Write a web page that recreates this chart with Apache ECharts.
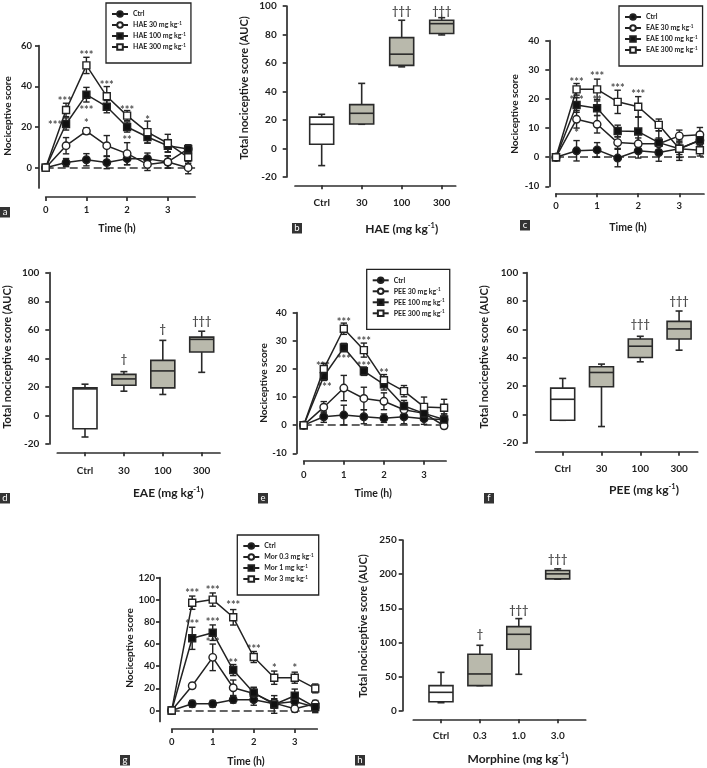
<!DOCTYPE html>
<html><head><meta charset="utf-8">
<script src="https://cdn.jsdelivr.net/npm/echarts@6/dist/echarts.min.js"></script>
<style>html,body{margin:0;padding:0;background:#fff}#c{width:707px;height:768px}</style>
</head><body><div id="c"></div>
<script>
// ---------------- DATA ----------------
const timeH = [0, 0.5, 1, 1.5, 2, 2.5, 3, 3.5];
const timeTicks = [0, 1, 2, 3];

// Panel a (HAE)
const aNames = ['Ctrl', 'HAE 30 mg kg-1', 'HAE 100 mg kg-1', 'HAE 300 mg kg-1'];
const aCtrl = [0, 2.5, 3.9, 2.5, 4.4, 4.4, 2.8, 9.2];
const aCtrlErr = [0, 2, 3, 3, 3, 2.8, 3, 2];
const aD30 = [0, 10.8, 18, 10.8, 6.9, 1.6, 2.8, 0];
const aD30Err = [0, 4, 1.6, 5, 5.4, 3, 3, 3];
const aD100 = [0, 21.5, 35.9, 30, 20, 15.1, 10.8, 9.2];
const aD100Err = [0, 3, 3.6, 3, 2.5, 3, 3, 2];
const aD300 = [0, 28.4, 50.3, 35.1, 25.6, 17.5, 12, 5.1];
const aD300Err = [0, 3.3, 4, 4.8, 2.5, 5.4, 4.4, 3];
const aYTicks = [0, 20, 40, 60];
const aStars = [[0.47, 33.6, '***'], [0.23, 21.8, '***'], [1, 56.6, '***'], [1, 29.2, '***'], [1, 23, '*'],
  [1.5, 41.5, '***'], [2, 29.2, '***'], [2, 14.4, '**'], [2.5, 24.3, '*']];

// Panel b (HAE AUC)
const bCats = ['Ctrl', '30', '100', '300'];
const bBoxes = [[-12, 3, 17, 22, 24], [17, 17.2, 24.7, 30.8, 45.7], [57.3, 58.3, 66.2, 77.8, 90], [79.7, 80.7, 87.6, 90, 91.8]];
const bYTicks = [-20, 0, 20, 40, 60, 80, 100];
const bDaggers = [[2, 95.9, '†††'], [3, 95.9, '†††']];

// Panel c (EAE)
const cNames = ['Ctrl', 'EAE 30 mg kg-1', 'EAE 100 mg kg-1', 'EAE 300 mg kg-1'];
const cCtrl = [0, 2.2, 2.5, -0.3, 2.2, 1.6, 2.9, 5.8];
const cCtrlErr = [0, 3.5, 2.5, 3, 2.5, 3, 3, 2];
const cD30 = [0, 13, 11.3, 5, 4.6, 4.6, 7.3, 7.7];
const cD30Err = [0, 3, 3, 2, 2, 2, 2, 2.5];
const cD100 = [0, 17.9, 16.8, 9, 8.8, 5, 2.9, 5.8];
const cD100Err = [0, 2.5, 2.5, 2, 5, 4, 2, 2];
const cD300 = [0, 23.3, 23.3, 19, 17.3, 11.1, 2.9, 2.4];
const cD300Err = [0, 2, 3.5, 4, 3.5, 2, 4, 2];
const cYTicks = [-10, 0, 10, 20, 30, 40];
const cStars = [[0.5, 26.4, '***'], [0.5, 20.5, '***'], [0.5, 9.0, '*'], [1, 28.5, '***'], [1, 20.3, '**'],
  [1.5, 24.6, '***'], [2, 22.3, '***']];

// Panel d (EAE AUC)
const dCats = ['Ctrl', '30', '100', '300'];
const dBoxes = [[-15.1, -9.3, 18.6, 19.3, 21.9], [17, 21.2, 25.6, 28.8, 30.7], [14.7, 19.3, 31.2, 38.6, 52.6], [30.2, 44.4, 53.3, 54.9, 59]];
const dYTicks = [-20, 0, 20, 40, 60, 80, 100];
const dDaggers = [[1, 39.3, '†'], [2, 60.2, '†'], [3, 65.8, '†††']];

// Panel e (PEE)
const eNames = ['Ctrl', 'PEE 30 mg kg-1', 'PEE 100 mg kg-1', 'PEE 300 mg kg-1'];
const eCtrl = [0, 3, 3.6, 3, 2.5, 3, 2.3, 2];
const eCtrlErr = [0, 2, 3.5, 2.5, 1.5, 2.5, 2, 2];
const eD30 = [0, 6.4, 13.2, 9.5, 8.5, 5.5, 4.2, -0.2];
const eD30Err = [0, 2, 4.5, 4, 3, 2, 2, 1];
const eD100 = [0, 17.4, 27.6, 19.2, 14.5, 6.8, 4.2, 2];
const eD100Err = [0, 1.5, 1.5, 1.5, 2, 2, 2, 2];
const eD300 = [0, 20, 34.3, 26.7, 16, 12.1, 6.5, 6.2];
const eD300Err = [0, 2, 2, 2.5, 2, 2, 3.5, 3];
const eYTicks = [-10, 0, 10, 20, 30, 40];
const eStars = [[0.48, 21.9, '***'], [0.52, 14.2, '***'], [1, 37.4, '***'], [1, 24.1, '***'],
  [1.5, 30.5, '***'], [1.5, 21.6, '***'], [2, 19.2, '**']];

// Panel f (PEE AUC)
const fCats = ['Ctrl', '30', '100', '300'];
const fBoxes = [[-4, -4, 10.8, 18.7, 25.5], [-8.4, 19.6, 29.7, 33.7, 35.6], [37.2, 40.2, 48.2, 53.3, 55.2], [45.4, 53.3, 60.4, 65.7, 73]];
const fYTicks = [-20, 0, 20, 40, 60, 80, 100];
const fDaggers = [[2, 63.4, '†††'], [3, 80, '†††']];

// Panel g (Morphine)
const gNames = ['Ctrl', 'Mor 0.3 mg kg-1', 'Mor 1 mg kg-1', 'Mor 3 mg kg-1'];
const gCtrl = [0, 6, 6, 9.7, 9.7, 6, 8.1, 3];
const gCtrlErr = [0, 3, 3, 3, 5, 4, 4, 4];
const gD03 = [0, 22.3, 48, 20.5, 15.4, 6.6, 1.5, 6];
const gD03Err = [0, 2, 12, 7, 5, 4, 3, 3];
const gD1 = [0, 65.2, 70.3, 36.5, 16, 5.4, 13.3, 3];
const gD1Err = [0, 10, 7, 5, 5, 8, 6, 5];
const gD3 = [0, 97.4, 100.2, 84.2, 48.3, 29.6, 29.6, 19.9];
const gD3Err = [0, 6, 6, 7, 5, 6, 5, 4];
const gYTicks = [0, 20, 40, 60, 80, 100, 120];
const gStars = [[0.5, 108.3, '***'], [0.5, 80.2, '***'], [1, 110.4, '***'], [1, 81.7, '***'], [1, 63.6, '***'],
  [1.5, 96.8, '***'], [1.5, 44.9, '**'], [2, 57.6, '***'], [2.5, 40.4, '*'], [3, 40.4, '*']];

// Panel h (Morphine AUC)
const hCats = ['Ctrl', '0.3', '1.0', '3.0'];
const hBoxes = [[11.7, 13.2, 26.9, 36.7, 56.2], [36.7, 36.7, 53.8, 82.6, 95.8], [53.3, 89.9, 111.9, 123.2, 134.9], [192.6, 193.1, 200.4, 205.3, 207.7]];
const hYTicks = [0, 50, 100, 150, 200, 250];
const hDaggers = [[1, 111, '†'], [2, 146.6, '†††'], [3, 221, '†††']];

// ---------------- BUILD ----------------
const F = 'Lato, "Open Sans", sans-serif';
const AX = '#2e2e2e';
const TX = '#1e1e1e';
const grids = [], xAxes = [], yAxes = [], series = [], legends = [];
const SYM = [
  { symbol: 'circle', size: 7.5, fill: '#111' },
  { symbol: 'circle', size: 7.5, fill: '#fff' },
  { symbol: 'rect', size: 7, fill: '#111' },
  { symbol: 'rect', size: 7, fill: '#fff' }
];

function supRich(name) {
  const m = name.match(/^(.*) mg kg-1$/);
  return m ? '{t|' + m[1] + ' mg kg}{s|-1}' : '{t|' + name + '}';
}

function axisBase(gi, o) {
  return {
    type: 'value', gridIndex: gi, min: o.min, max: o.max, offset: o.off,
    axisLine: { show: true, onZero: false, lineStyle: { color: AX, width: 1.7 } },
    axisTick: { show: true, length: 4, customValues: o.ticks, lineStyle: { color: AX, width: 1.7 } },
    axisLabel: { show: true, customValues: o.ticks, margin: o.margin, fontSize: o.fs, fontWeight: 'bold',
      fontFamily: F, color: TX, formatter: o.fmt || (v => String(v)) },
    splitLine: { show: false }
  };
}

function errRender(params, api) {
  const x = api.value(0), y = api.value(1), e = api.value(2);
  if (!e) return null;
  const t = api.coord([x, y + e]), b = api.coord([x, y - e]);
  const st = { stroke: '#222', lineWidth: 1.4 };
  const w = 3.2;
  return { type: 'group', children: [
    { type: 'line', shape: { x1: t[0], y1: t[1], x2: b[0], y2: b[1] }, style: st },
    { type: 'line', shape: { x1: t[0] - w, y1: t[1], x2: t[0] + w, y2: t[1] }, style: st },
    { type: 'line', shape: { x1: b[0] - w, y1: b[1], x2: b[0] + w, y2: b[1] }, style: st }
  ] };
}

function boxRender(params, api) {
  const i = api.value(0);
  const pLo = api.coord([i, api.value(1)]), pQ1 = api.coord([i, api.value(2)]), pMed = api.coord([i, api.value(3)]);
  const pQ3 = api.coord([i, api.value(4)]), pHi = api.coord([i, api.value(5)]);
  const cx = pLo[0], hw = 12, cw = 3.5;
  const st = { stroke: '#2a2a2a', lineWidth: 1.6 };
  return { type: 'group', children: [
    { type: 'line', shape: { x1: cx, y1: pHi[1], x2: cx, y2: pQ3[1] }, style: st },
    { type: 'line', shape: { x1: cx, y1: pQ1[1], x2: cx, y2: pLo[1] }, style: st },
    { type: 'line', shape: { x1: cx - cw, y1: pHi[1], x2: cx + cw, y2: pHi[1] }, style: st },
    { type: 'line', shape: { x1: cx - cw, y1: pLo[1], x2: cx + cw, y2: pLo[1] }, style: st },
    { type: 'rect', shape: { x: cx - hw, y: pQ3[1], width: 2 * hw, height: pQ1[1] - pQ3[1] },
      style: { fill: i === 0 ? '#fff' : '#b9b9ac', stroke: '#2a2a2a', lineWidth: 1.6 } },
    { type: 'line', shape: { x1: cx - hw, y1: pMed[1], x2: cx + hw, y2: pMed[1] }, style: st }
  ] };
}

function textSeries(gi, data, fs, dy) {
  return {
    type: 'scatter', xAxisIndex: gi, yAxisIndex: gi, data: data, symbolSize: 0, z: 5, silent: true,
    label: { show: true, position: 'inside', offset: [0, dy], formatter: p => p.value[2], fontSize: fs,
      fontWeight: 'bold', fontFamily: F, color: TX }
  };
}

function addLinePanel(p) {
  const gi = grids.length;
  grids.push({ left: p.grid[0], top: p.grid[1], width: p.grid[2], height: p.grid[3] });
  xAxes.push(axisBase(gi, { min: 0, max: p.xMax, off: p.xOff, ticks: timeTicks, margin: p.xMargin, fs: 9.5 }));
  yAxes.push(axisBase(gi, { min: p.yMin, max: p.yMax, off: p.yOff, ticks: p.yTicks, margin: p.yMargin, fs: 9.5 }));
  p.vals.forEach((vals, k) => {
    series.push({
      type: 'custom', xAxisIndex: gi, yAxisIndex: gi, renderItem: errRender, z: 2, silent: true,
      encode: { x: 0, y: 1 }, data: timeH.map((t, i) => [t, vals[i], p.errs[k][i]])
    });
  });
  p.vals.forEach((vals, k) => {
    const s = {
      type: 'line', name: p.names[k], xAxisIndex: gi, yAxisIndex: gi, z: 3 + k * 0.01,
      data: timeH.map((t, i) => [t, vals[i]]),
      symbol: SYM[k].symbol, symbolSize: SYM[k].size, showAllSymbol: true,
      lineStyle: { color: '#222', width: 1.5 },
      itemStyle: { color: SYM[k].fill, borderColor: '#222', borderWidth: 1.4 }
    };
    if (k === 0) {
      s.markLine = { silent: true, symbol: ['none', 'none'], label: { show: false },
        lineStyle: { type: [8, 4], color: '#333', width: 1.5 }, data: [{ yAxis: 0 }], z: 1 };
    }
    series.push(s);
  });
  series.push(textSeries(gi, p.stars, 11, 2.5));
  legends.push({
    left: p.legend[0], top: p.legend[1], orient: 'vertical', data: p.names, selectedMode: false,
    borderColor: '#222', borderWidth: 1.3, padding: [7, 5, 12, 5], itemWidth: 16, itemHeight: 7, itemGap: 3,
    formatter: supRich,
    textStyle: { fontSize: 7, lineHeight: 7, fontWeight: 'bold', fontFamily: F, color: TX,
      rich: { t: { fontSize: 7, fontWeight: 'bold', fontFamily: F, color: TX, lineHeight: 8 },
              s: { fontSize: 4.6, fontWeight: 'bold', fontFamily: F, color: TX, verticalAlign: 'top', lineHeight: 8 } } }
  });
}

function addBoxPanel(p) {
  const gi = grids.length;
  grids.push({ left: p.grid[0], top: p.grid[1], width: p.grid[2], height: p.grid[3] });
  xAxes.push(axisBase(gi, { min: p.xMin, max: p.xMax, off: p.xOff, ticks: [0, 1, 2, 3], margin: p.xMargin, fs: 10,
    fmt: v => p.cats[v] }));
  yAxes.push(axisBase(gi, { min: p.yTicks[0], max: p.yTicks[p.yTicks.length - 1], off: p.yOff, ticks: p.yTicks,
    margin: p.yMargin, fs: 10 }));
  series.push({
    type: 'custom', xAxisIndex: gi, yAxisIndex: gi, renderItem: boxRender, z: 2, silent: true,
    encode: { x: 0, y: [1, 2, 3, 4, 5] }, data: p.boxes.map((b, i) => [i].concat(b))
  });
  series.push(textSeries(gi, p.daggers, 11, 0));
}

addLinePanel({ grid: [45.7, 45.7, 149.4, 142.3], xMax: 3.67, yMin: -10, yMax: 60, yTicks: aYTicks, xOff: 9, yOff: 6.7,
  xMargin: 8, yMargin: 7, names: aNames, vals: [aCtrl, aD30, aD100, aD300], errs: [aCtrlErr, aD30Err, aD100Err, aD300Err],
  stars: aStars, legend: [106, 3] });
addBoxPanel({ grid: [295, 6, 160.7, 171], xMin: -0.667, xMax: 3.35, xOff: 8.3, yOff: 8.3, xMargin: 12, yMargin: 10,
  cats: bCats, boxes: bBoxes, yTicks: bYTicks, daggers: bDaggers });
addLinePanel({ grid: [556, 40.7, 148, 145.6], xMax: 3.6, yMin: -10, yMax: 40, yTicks: cYTicks, xOff: 7, yOff: 6.7,
  xMargin: 8, yMargin: 10, names: cNames, vals: [cCtrl, cD30, cD100, cD300], errs: [cCtrlErr, cD30Err, cD100Err, cD300Err],
  stars: cStars, legend: [619, 6] });
addBoxPanel({ grid: [57.3, 272.7, 162.7, 171.3], xMin: -0.712, xMax: 3.47, xOff: 8.3, yOff: 8, xMargin: 13, yMargin: 10,
  cats: dCats, boxes: dBoxes, yTicks: dYTicks, daggers: dDaggers });
addLinePanel({ grid: [303.7, 312.7, 142.4, 140.6], xMax: 3.55, yMin: -10, yMax: 40, yTicks: eYTicks, xOff: 7.4, yOff: 7,
  xMargin: 9, yMargin: 10, names: eNames, vals: [eCtrl, eD30, eD100, eD300], errs: [eCtrlErr, eD30Err, eD100Err, eD300Err],
  stars: eStars, legend: [366.7, 269.3] });
addBoxPanel({ grid: [535.7, 272.7, 162, 170.3], xMin: -0.696, xMax: 3.48, xOff: 8.7, yOff: 9, xMargin: 12, yMargin: 8.5,
  cats: fCats, boxes: fBoxes, yTicks: fYTicks, daggers: fDaggers });
addLinePanel({ grid: [171.7, 577.7, 145.6, 143.8], xMax: 3.55, yMin: -10, yMax: 120, yTicks: gYTicks, xOff: 7.5, yOff: 11.7,
  xMargin: 8, yMargin: 5, names: gNames, vals: [gCtrl, gD03, gD1, gD3], errs: [gCtrlErr, gD03Err, gD1Err, gD3Err],
  stars: gStars, legend: [237.3, 535] });
addBoxPanel({ grid: [413.3, 540, 172.4, 170.7], xMin: -0.712, xMax: 3.72, xOff: 8.6, yOff: 10.6, xMargin: 11, yMargin: 6,
  cats: hCats, boxes: hBoxes, yTicks: hYTicks, daggers: hDaggers });

// ---------------- TEXT / LABELS ----------------
const graphics = [];
function title(x, y, text, fs, rot) {
  graphics.push({ type: 'text', x: x, y: y, rotation: rot ? Math.PI / 2 : 0, silent: true,
    style: { text: text, align: 'center', verticalAlign: 'middle', fill: TX,
      font: 'bold ' + fs + 'px ' + F } });
}
function unitTitle(x, y, prefix) {
  graphics.push({ type: 'text', x: x, y: y, silent: true,
    style: { text: '{t|' + prefix + ' (mg kg}{s|-1}{t|)}', align: 'center', verticalAlign: 'middle',
      rich: { t: { fontSize: 12, fontWeight: 'bold', fontFamily: F, fill: TX, lineHeight: 14 },
              s: { fontSize: 7.5, fontWeight: 'bold', fontFamily: F, fill: TX, verticalAlign: 'top', lineHeight: 14 } } } });
}
function panelLabel(x, y, ch) {
  graphics.push({ type: 'group', x: x, y: y, silent: true, children: [
    { type: 'rect', shape: { x: 0, y: 0, width: 10, height: 10.5 }, style: { fill: '#333' } },
    { type: 'text', x: 5, y: 5.2, style: { text: ch, align: 'center', verticalAlign: 'middle', fill: '#fff',
      font: '9.5px ' + F } }
  ] });
}
// line chart axis titles
title(117, 229, 'Time (h)', 10.5, false);
title(628, 228, 'Time (h)', 10.5, false);
title(373.3, 493.3, 'Time (h)', 10.5, false);
title(246, 762, 'Time (h)', 10.5, false);
title(7.5, 116, 'Nociceptive score', 10, true);
title(515, 114, 'Nociceptive score', 10, true);
title(263.5, 383, 'Nociceptive score', 10, true);
title(130, 648, 'Nociceptive score', 10, true);
// box chart axis titles
title(244.5, 88, 'Total nociceptive score (AUC)', 11, true);
title(7.5, 357, 'Total nociceptive score (AUC)', 11, true);
title(484, 357, 'Total nociceptive score (AUC)', 11, true);
title(363, 626, 'Total nociceptive score (AUC)', 11, true);
unitTitle(401.7, 229, 'HAE');
unitTitle(168.3, 492.7, 'EAE');
unitTitle(644, 490, 'PEE');
unitTitle(518, 759, 'Morphine');
// panel letters
panelLabel(0, 207, 'a');
panelLabel(292, 223, 'b');
panelLabel(520, 220, 'c');
panelLabel(0, 493, 'd');
panelLabel(258, 493, 'e');
panelLabel(484, 493, 'f');
panelLabel(120, 755, 'g');
panelLabel(355, 755, 'h');

const chart = echarts.init(document.getElementById('c'), null, { renderer: 'canvas' });
chart.setOption({
  animation: false,
  backgroundColor: '#fff',
  grid: grids, xAxis: xAxes, yAxis: yAxes, series: series, legend: legends,
  graphic: graphics
});
</script></body></html>
